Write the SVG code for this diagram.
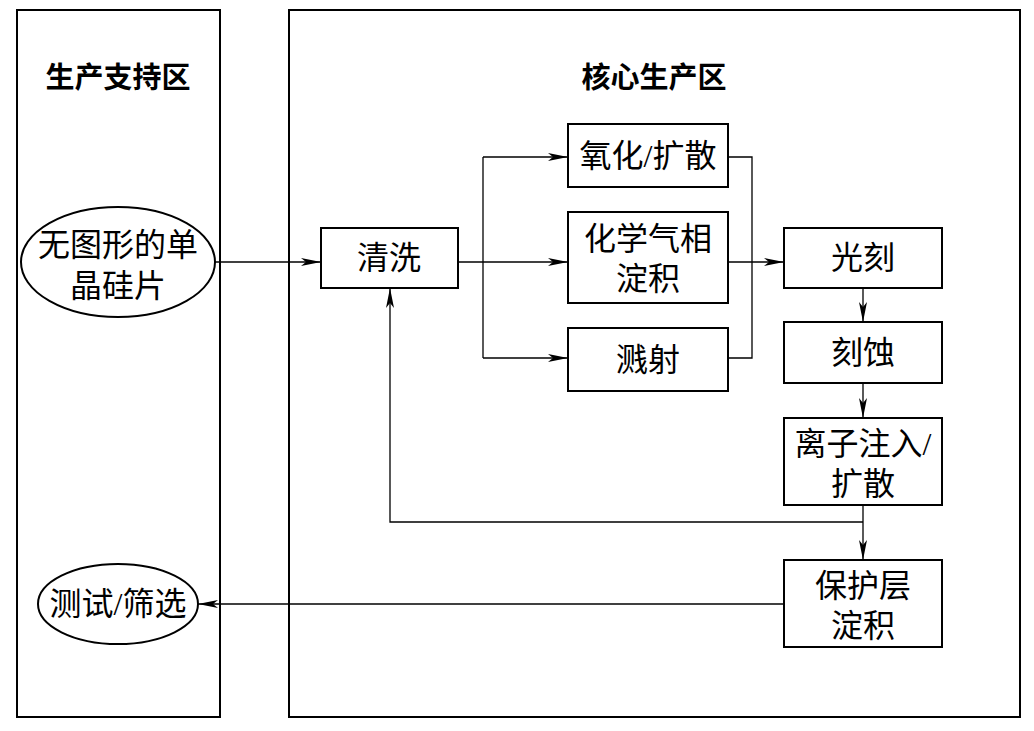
<svg xmlns="http://www.w3.org/2000/svg" width="1034" height="731" viewBox="0 0 1034 731">
<style>
.b{fill:#fff;stroke:#000;stroke-width:2}
.t{font-family:"Liberation Serif","Noto Sans CJK SC",serif;font-size:32px;fill:#000;text-anchor:middle}
.h{font-weight:bold;font-size:29px}
.c{fill:none;stroke:#000;stroke-width:1.3}
</style>
<defs><marker id="a" viewBox="0 0 20 8" refX="20" refY="4" markerWidth="20" markerHeight="8" markerUnits="userSpaceOnUse" orient="auto"><path d="M0,0L20,4L0,8L5,4z" fill="#000"/></marker></defs>
<rect width="1034" height="731" fill="#fff"/>
<g id="support"><rect class="b" x="17" y="10" width="203" height="707"/><text class="t h" x="118" y="88">生产支持区</text></g>
<g id="core"><rect class="b" x="289" y="10" width="731" height="707"/><text class="t h" x="654" y="88">核心生产区</text></g>
<g id="wafer"><ellipse class="b" cx="118" cy="262" rx="97" ry="55"/><text class="t" x="118" y="256">无图形的单</text><text class="t" x="118" y="297">晶硅片</text></g>
<g id="test"><ellipse class="b" cx="118" cy="604" rx="80" ry="40"/><text class="t" x="118" y="615">测试/筛选</text></g>
<g id="clean"><rect class="b" x="321" y="228" width="137" height="60"/><text class="t" x="389" y="269">清洗</text></g>
<g id="oxid"><rect class="b" x="568" y="124" width="160" height="63"/><text class="t" x="648" y="167">氧化/扩散</text></g>
<g id="cvd"><rect class="b" x="568" y="212" width="160" height="91"/><text class="t" x="648" y="250">化学气相</text><text class="t" x="648" y="290">淀积</text></g>
<g id="sputter"><rect class="b" x="568" y="328" width="160" height="63"/><text class="t" x="648" y="371">溅射</text></g>
<g id="litho"><rect class="b" x="784" y="228" width="158" height="60"/><text class="t" x="863" y="269">光刻</text></g>
<g id="etch"><rect class="b" x="784" y="322" width="158" height="61"/><text class="t" x="863" y="364">刻蚀</text></g>
<g id="implant"><rect class="b" x="784" y="418" width="158" height="87"/><text class="t" x="863" y="455">离子注入/</text><text class="t" x="863" y="495">扩散</text></g>
<g id="passiv"><rect class="b" x="784" y="560" width="158" height="87"/><text class="t" x="863" y="597">保护层</text><text class="t" x="863" y="637">淀积</text></g>
<g id="connectors">
<path class="c" d="M215,262H321" marker-end="url(#a)"/>
<path class="c" d="M458,262H568" marker-end="url(#a)"/>
<path class="c" d="M483,157V358"/>
<path class="c" d="M483,157H568" marker-end="url(#a)"/>
<path class="c" d="M483,358H568" marker-end="url(#a)"/>
<path class="c" d="M728,157H752V358H728"/>
<path class="c" d="M728,262H784" marker-end="url(#a)"/>
<path class="c" d="M863,288V322" marker-end="url(#a)"/>
<path class="c" d="M863,383V418" marker-end="url(#a)"/>
<path class="c" d="M863,505V560" marker-end="url(#a)"/>
<path class="c" d="M863,522H390V288" marker-end="url(#a)"/>
<path class="c" d="M784,604H198" marker-end="url(#a)"/>
</g>
</svg>
